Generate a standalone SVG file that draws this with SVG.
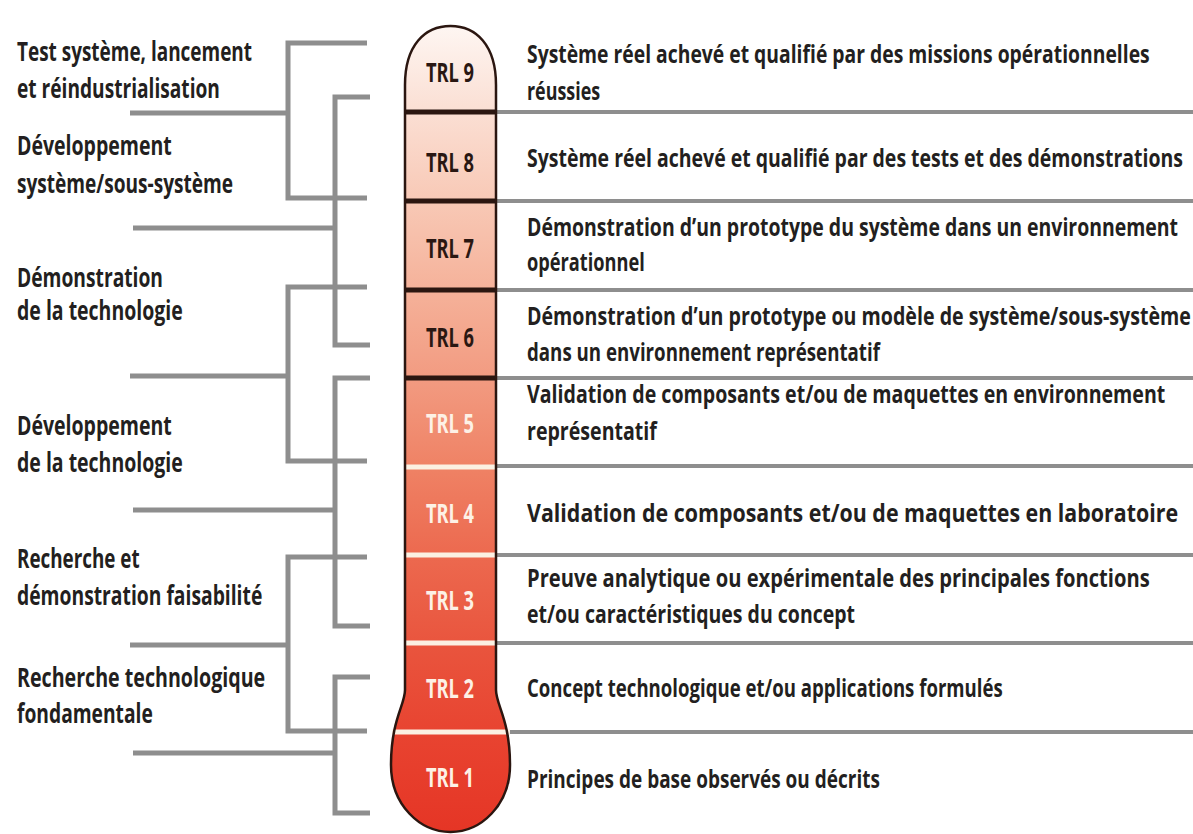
<svg xmlns="http://www.w3.org/2000/svg" width="1193" height="834" viewBox="0 0 1193 834">
<style>
.t{font-family:"Open Sans","Liberation Sans",sans-serif;font-weight:700;fill:#231f20}
.l{font-size:26px}
.r{font-size:25.5px}
.trl{font-family:"Open Sans","Liberation Sans",sans-serif;font-weight:700;font-size:26px;text-anchor:middle}
.dk{fill:#2a1712}
.wt{fill:#fdf1e6}
.br{fill:none;stroke:#8e8e8e;stroke-width:5;stroke-linejoin:miter;stroke-linecap:butt}
.dv{stroke:#8e8e8e;stroke-width:4}
.sd{stroke:#2b1610;stroke-width:5}
.sw{stroke:#fbf0e2;stroke-width:5}
</style>
<defs>
<linearGradient id="g" gradientUnits="userSpaceOnUse" x1="0" y1="26" x2="0" y2="834">
<stop offset="0" stop-color="#fef6f2"/>
<stop offset="0.1" stop-color="#fbe0d5"/>
<stop offset="0.22" stop-color="#f8c8b5"/>
<stop offset="0.33" stop-color="#f5b199"/>
<stop offset="0.44" stop-color="#f29a80"/>
<stop offset="0.55" stop-color="#ef8164"/>
<stop offset="0.66" stop-color="#ec684e"/>
<stop offset="0.77" stop-color="#e9543d"/>
<stop offset="0.88" stop-color="#e84330"/>
<stop offset="1" stop-color="#e53525"/>
</linearGradient>
<clipPath id="cp"><path d="M405,690 V85 C405,45 425,26 450.5,26 C476,26 496,45 496,85 V690 C496,705 510,720 510,765 C510,805 481,832 450.5,832 C420,832 391,805 391,765 C391,720 405,705 405,690 Z"/></clipPath>
</defs>
<rect width="1193" height="834" fill="#ffffff"/>

<g id="connectors">
<path class="br" d="M367,43 H288 V198 H367 M130,113 H288"/>
<path class="br" d="M370,97 H335 V345 H370 M133,228 H335"/>
<path class="br" d="M367,287 H288 V461 H367 M130,376 H288"/>
<path class="br" d="M370,378 H335 V626 H370 M133,510 H335"/>
<path class="br" d="M367,557 H288 V731 H367 M130,645 H288"/>
<path class="br" d="M370,677 H335 V813 H370 M133,753 H335"/>
<path class="dv" d="M496,112 H1193 M496,201 H1193 M496,290 H1193 M496,378 H1193 M496,466 H1193 M496,555 H1193 M496,643 H1193 M510,732 H1193"/>
</g>

<g id="thermometer">
<rect x="380" y="20" width="140" height="814" fill="url(#g)" clip-path="url(#cp)"/>
<path class="sd" d="M405,112 H496 M405,201 H496 M405,290 H496 M405,378 H496"/>
<path class="sw" d="M405,467 H496 M405,555 H496 M405,643 H496 M392,732 H510"/>
<path d="M405,690 V85 C405,45 425,26 450.5,26 C476,26 496,45 496,85 V690 C496,705 510,720 510,765 C510,805 481,832 450.5,832 C420,832 391,805 391,765 C391,720 405,705 405,690 Z" fill="none" stroke="#2b1610" stroke-width="2.5"/>
</g>

<g id="phase-test-systeme">
<text class="t l" transform="translate(17,61) scale(0.73,1)" textLength="322" lengthAdjust="spacingAndGlyphs">Test système, lancement</text>
<text class="t l" transform="translate(17,98) scale(0.73,1)" textLength="278" lengthAdjust="spacingAndGlyphs">et réindustrialisation</text>
</g>
<g id="phase-dev-systeme">
<text class="t l" transform="translate(17,155) scale(0.73,1)" textLength="212" lengthAdjust="spacingAndGlyphs">Développement</text>
<text class="t l" transform="translate(17,193) scale(0.73,1)" textLength="296" lengthAdjust="spacingAndGlyphs">système/sous-système</text>
</g>
<g id="phase-demo-techno">
<text class="t l" transform="translate(17,287) scale(0.73,1)" textLength="200" lengthAdjust="spacingAndGlyphs">Démonstration</text>
<text class="t l" transform="translate(17,320) scale(0.73,1)" textLength="227" lengthAdjust="spacingAndGlyphs">de la technologie</text>
</g>
<g id="phase-dev-techno">
<text class="t l" transform="translate(17,435) scale(0.73,1)" textLength="212" lengthAdjust="spacingAndGlyphs">Développement</text>
<text class="t l" transform="translate(17,472) scale(0.73,1)" textLength="227" lengthAdjust="spacingAndGlyphs">de la technologie</text>
</g>
<g id="phase-recherche-demo">
<text class="t l" transform="translate(17,568) scale(0.73,1)" textLength="168" lengthAdjust="spacingAndGlyphs">Recherche et</text>
<text class="t l" transform="translate(17,605) scale(0.73,1)" textLength="336" lengthAdjust="spacingAndGlyphs">démonstration faisabilité</text>
</g>
<g id="phase-recherche-fond">
<text class="t l" transform="translate(17,687) scale(0.73,1)" textLength="340" lengthAdjust="spacingAndGlyphs">Recherche technologique</text>
<text class="t l" transform="translate(17,723) scale(0.73,1)" textLength="186" lengthAdjust="spacingAndGlyphs">fondamentale</text>
</g>

<g id="trl9">
<text class="trl dk" transform="translate(450,82) scale(0.74,1)" textLength="65" lengthAdjust="spacingAndGlyphs">TRL 9</text>
<text class="t r" transform="translate(527,63) scale(0.71,1)" textLength="877" lengthAdjust="spacingAndGlyphs">Système réel achevé et qualifié par des missions opérationnelles</text>
<text class="t r" transform="translate(527,100) scale(0.71,1)" textLength="103" lengthAdjust="spacingAndGlyphs">réussies</text>
</g>
<g id="trl8">
<text class="trl dk" transform="translate(450,172) scale(0.74,1)" textLength="65" lengthAdjust="spacingAndGlyphs">TRL 8</text>
<text class="t r" transform="translate(527,167) scale(0.71,1)" textLength="924" lengthAdjust="spacingAndGlyphs">Système réel achevé et qualifié par des tests et des démonstrations</text>
</g>
<g id="trl7">
<text class="trl dk" transform="translate(450,258) scale(0.74,1)" textLength="65" lengthAdjust="spacingAndGlyphs">TRL 7</text>
<text class="t r" transform="translate(527,236) scale(0.71,1)" textLength="917" lengthAdjust="spacingAndGlyphs">Démonstration d’un prototype du système dans un environnement</text>
<text class="t r" transform="translate(527,271) scale(0.71,1)" textLength="166" lengthAdjust="spacingAndGlyphs">opérationnel</text>
</g>
<g id="trl6">
<text class="trl dk" transform="translate(450,347) scale(0.74,1)" textLength="65" lengthAdjust="spacingAndGlyphs">TRL 6</text>
<text class="t r" transform="translate(527,325) scale(0.71,1)" textLength="935" lengthAdjust="spacingAndGlyphs">Démonstration d’un prototype ou modèle de système/sous-système</text>
<text class="t r" transform="translate(527,361) scale(0.71,1)" textLength="497" lengthAdjust="spacingAndGlyphs">dans un environnement représentatif</text>
</g>
<g id="trl5">
<text class="trl wt" transform="translate(450,433) scale(0.74,1)" textLength="65" lengthAdjust="spacingAndGlyphs">TRL 5</text>
<text class="t r" transform="translate(527,403) scale(0.71,1)" textLength="899" lengthAdjust="spacingAndGlyphs">Validation de composants et/ou de maquettes en environnement</text>
<text class="t r" transform="translate(527,440) scale(0.71,1)" textLength="183" lengthAdjust="spacingAndGlyphs">représentatif</text>
</g>
<g id="trl4">
<text class="trl wt" transform="translate(450,523) scale(0.74,1)" textLength="65" lengthAdjust="spacingAndGlyphs">TRL 4</text>
<text class="t r" transform="translate(527,522) scale(0.71,1)" textLength="917" lengthAdjust="spacingAndGlyphs">Validation de composants et/ou de maquettes en laboratoire</text>
</g>
<g id="trl3">
<text class="trl wt" transform="translate(450,610) scale(0.74,1)" textLength="65" lengthAdjust="spacingAndGlyphs">TRL 3</text>
<text class="t r" transform="translate(527,587) scale(0.71,1)" textLength="877" lengthAdjust="spacingAndGlyphs">Preuve analytique ou expérimentale des principales fonctions</text>
<text class="t r" transform="translate(527,623) scale(0.71,1)" textLength="462" lengthAdjust="spacingAndGlyphs">et/ou caractéristiques du concept</text>
</g>
<g id="trl2">
<text class="trl wt" transform="translate(450,698) scale(0.74,1)" textLength="65" lengthAdjust="spacingAndGlyphs">TRL 2</text>
<text class="t r" transform="translate(527,697) scale(0.71,1)" textLength="670" lengthAdjust="spacingAndGlyphs">Concept technologique et/ou applications formulés</text>
</g>
<g id="trl1">
<text class="trl wt" transform="translate(450,787) scale(0.74,1)" textLength="65" lengthAdjust="spacingAndGlyphs">TRL 1</text>
<text class="t r" transform="translate(527,788) scale(0.71,1)" textLength="497" lengthAdjust="spacingAndGlyphs">Principes de base observés ou décrits</text>
</g>
</svg>
